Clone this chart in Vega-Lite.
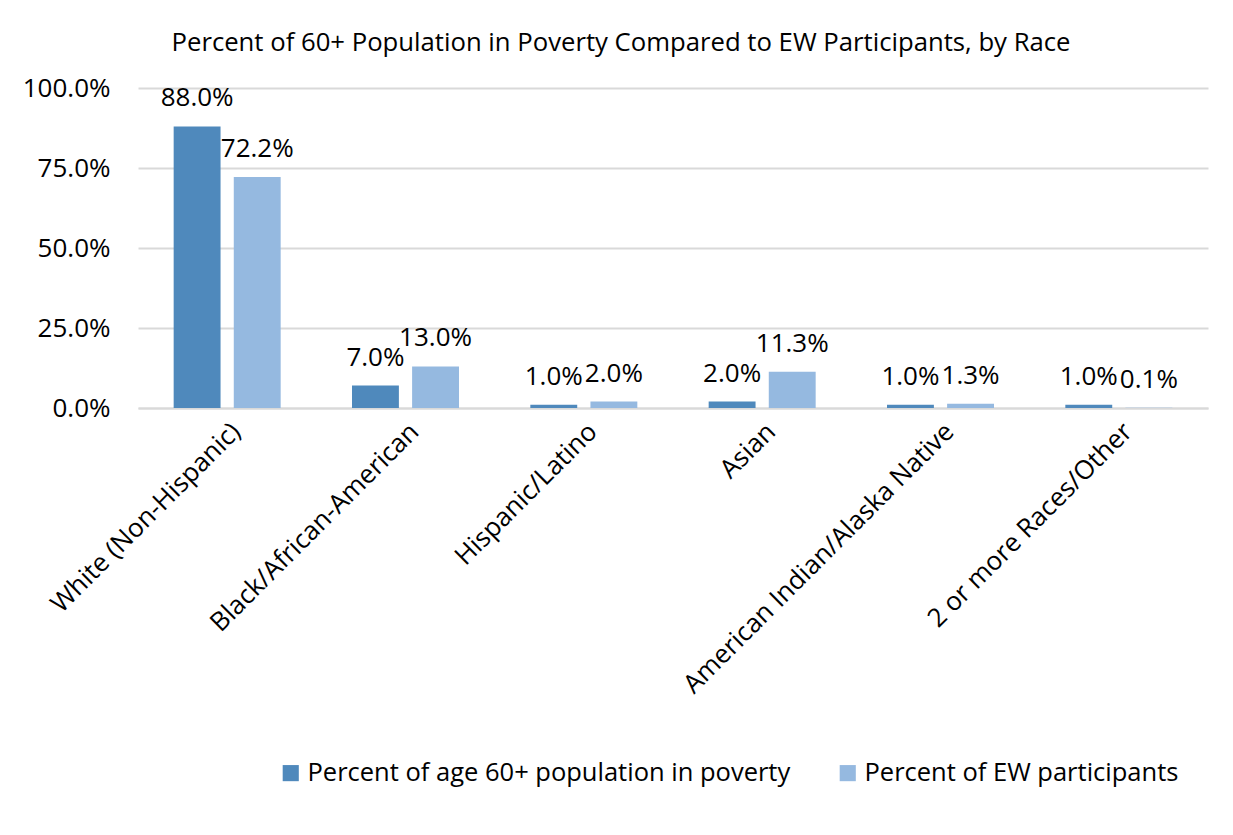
{
  "$schema": "https://vega.github.io/schema/vega-lite/v6.json",
  "width": 1070,
  "height": 320,
  "autosize": {"type": "none"},
  "padding": {"left": 138, "top": 88, "right": 25, "bottom": 427},
  "background": "white",
  "config": {
    "font": "Open Sans",
    "view": {"stroke": null}
  },
  "title": {
    "text": "Percent of 60+ Population in Poverty Compared to EW Participants, by Race",
    "fontSize": 25.7,
    "fontWeight": "normal",
    "color": "#000000",
    "anchor": "middle",
    "dx": -52,
    "offset": 18
  },
  "data": {
    "values": [
      {"race": "White (Non-Hispanic)", "series": "Percent of age 60+ population in poverty", "value": 0.88},
      {"race": "White (Non-Hispanic)", "series": "Percent of EW participants", "value": 0.722},
      {"race": "Black/African-American", "series": "Percent of age 60+ population in poverty", "value": 0.07},
      {"race": "Black/African-American", "series": "Percent of EW participants", "value": 0.13},
      {"race": "Hispanic/Latino", "series": "Percent of age 60+ population in poverty", "value": 0.01},
      {"race": "Hispanic/Latino", "series": "Percent of EW participants", "value": 0.02},
      {"race": "Asian", "series": "Percent of age 60+ population in poverty", "value": 0.02},
      {"race": "Asian", "series": "Percent of EW participants", "value": 0.113},
      {"race": "American Indian/Alaska Native", "series": "Percent of age 60+ population in poverty", "value": 0.01},
      {"race": "American Indian/Alaska Native", "series": "Percent of EW participants", "value": 0.013},
      {"race": "2 or more Races/Other", "series": "Percent of age 60+ population in poverty", "value": 0.01},
      {"race": "2 or more Races/Other", "series": "Percent of EW participants", "value": 0.001}
    ]
  },
  "encoding": {
    "x": {
      "field": "race",
      "type": "nominal",
      "sort": null,
      "scale": {"paddingInner": 0.4, "paddingOuter": 0.2},
      "axis": {
        "title": null,
        "labelAngle": -45,
        "labelFontSize": 26,
        "labelColor": "#000000",
        "labelLimit": 500,
        "ticks": false,
        "domainColor": "#d9d9d9",
        "domainWidth": 2,
        "labelPadding": 10
      }
    },
    "xOffset": {
      "field": "series",
      "type": "nominal",
      "sort": ["Percent of age 60+ population in poverty", "Percent of EW participants"],
      "scale": {"paddingInner": 0.22}
    },
    "y": {
      "field": "value",
      "type": "quantitative",
      "scale": {"domain": [0, 1]},
      "axis": {
        "title": null,
        "values": [0, 0.25, 0.5, 0.75, 1],
        "format": ".1%",
        "labelFontSize": 26,
        "labelColor": "#000000",
        "domain": false,
        "ticks": false,
        "gridColor": "#d9d9d9",
        "gridWidth": 2,
        "labelPadding": 28
      }
    }
  },
  "layer": [
    {
      "mark": {"type": "bar"},
      "encoding": {
        "color": {
          "field": "series",
          "type": "nominal",
          "scale": {
            "domain": ["Percent of age 60+ population in poverty", "Percent of EW participants"],
            "range": ["#4F89BC", "#95B9E0"]
          },
          "legend": {
            "title": null,
            "orient": "none",
            "legendX": 140,
            "legendY": 672,
            "direction": "horizontal",
            "symbolType": "square",
            "symbolSize": 260,
            "labelFontSize": 25.5,
            "labelColor": "#000000",
            "columnPadding": 44,
            "labelLimit": 600
          }
        }
      }
    },
    {
      "mark": {"type": "text", "baseline": "alphabetic", "dy": -20, "fontSize": 26, "color": "#000000"},
      "encoding": {
        "text": {"field": "value", "type": "quantitative", "format": ".1%"}
      }
    }
  ]
}
